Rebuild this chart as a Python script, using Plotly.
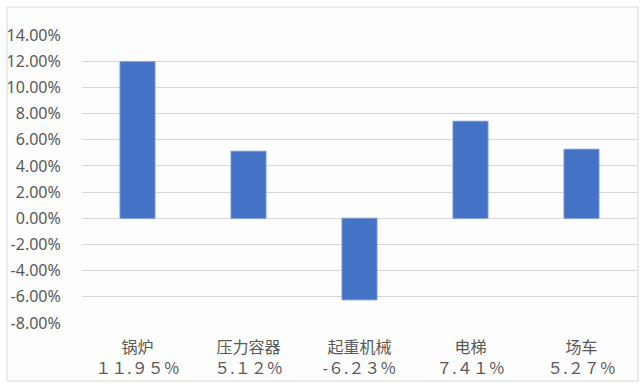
import plotly.graph_objects as go

categories = ["锅炉", "压力容器", "起重机械", "电梯", "场车"]
values = [0.1195, 0.0512, -0.0623, 0.0741, 0.0527]
value_labels = ["１１.９５％", "５.１２％", "-６.２３％", "７.４１％", "５.２７％"]
y_ticks = [-0.08, -0.06, -0.04, -0.02, 0.0, 0.02, 0.04, 0.06, 0.08, 0.10, 0.12, 0.14]

tick_text = [f"{c}<br>{v}" for c, v in zip(categories, value_labels)]

font_family = "Noto Sans, Noto Sans CJK SC, sans-serif"
grey = "#595959"

fig = go.Figure(go.Bar(
    x=categories,
    y=values,
    marker=dict(color="#4472C4", line=dict(color="#6F93D6", width=1)),
    width=0.315,
))

W, H = 644, 386
L, R, T, B = 82, 7, 35, 63
pw, ph = W - L - R, H - T - B

fig.update_layout(
    width=W, height=H,
    margin=dict(l=L, r=R, t=T, b=B, pad=0),
    paper_bgcolor="white",
    plot_bgcolor="rgba(0,0,0,0)",
    showlegend=False,
    font=dict(family=font_family, size=16, color=grey),
    xaxis=dict(
        tickmode="array", tickvals=categories, ticktext=tick_text,
        showgrid=False, zeroline=False, showline=False,
        ticks="outside", ticklen=10, tickcolor="rgba(0,0,0,0)",
        tickfont=dict(size=16, color=grey, family=font_family),
    ),
    yaxis=dict(
        range=[-0.08, 0.14],
        tickmode="array", tickvals=y_ticks,
        ticktext=[f"{v*100:.2f}%" for v in y_ticks],
        showgrid=True, gridcolor="#D6D6D6", gridwidth=1,
        zeroline=True, zerolinecolor="#D6D6D6", zerolinewidth=1,
        showline=False,
        ticks="outside", ticklen=17, tickcolor="rgba(0,0,0,0)",
        tickfont=dict(size=16, color=grey, family=font_family),
    ),
    shapes=[dict(
        type="rect", xref="paper", yref="paper",
        x0=(7 - L) / pw, x1=(638 - L) / pw,
        y0=(H - B - 381) / ph, y1=(H - B - 7) / ph,
        line=dict(color="#D9D9D9", width=1), fillcolor="#FDFDFD",
        layer="below",
    )],
)

fig.write_html("out.html", config={"displayModeBar": False},
               post_script="document.body.style.margin='0';")
